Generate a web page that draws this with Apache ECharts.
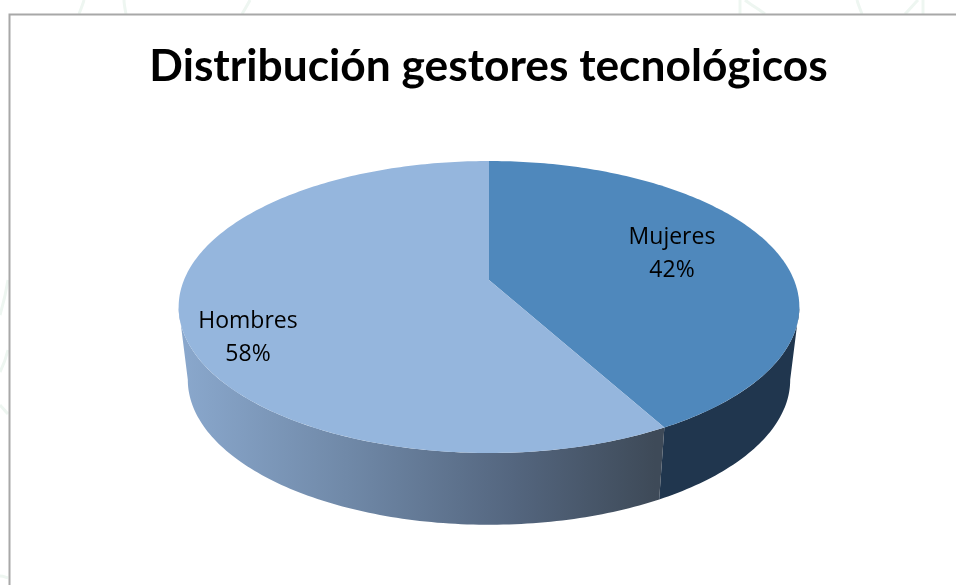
<!DOCTYPE html>
<html><head><meta charset="utf-8">
<style>html,body{margin:0;padding:0;background:#fff}#c{width:956px;height:585px}</style>
<script src="https://cdn.jsdelivr.net/npm/echarts@6/dist/echarts.min.js"></script>
</head><body><div id="c"></div>
<script>
const titleText = 'Distribución gestores tecnológicos';
const categories = ['Mujeres', 'Hombres'];
const values = [42, 58];

const topColors = ['#4f88bc', '#95b6dd'];
const labelCentres = [[672, 254], [248, 337.5]];
const total = values.reduce((a, b) => a + b, 0);
const persp = -0.185;
const topRim = {cx: 489, cy: 280, rx: 305, ry: 141};
const lowRim = {cx: 489, cy: 353, rx: 296, ry: 140};
// The wall is visible only on the front of the disc, between the two points of widest extent.
const frontFrom = Math.acos(persp);
const frontTo = 2 * Math.PI - frontFrom;

function rimPoint(rim, a) {
  const u = Math.sin(a), v = -Math.cos(a), w = 1 + persp * v;
  return [rim.cx + rim.rx * u / w, rim.cy + rim.ry * v / w];
}
function sweep(rim, a0, a1) {
  const n = Math.max(8, Math.ceil((a1 - a0) * 60)), pts = [];
  for (let i = 0; i <= n; i++) pts.push(rimPoint(rim, a0 + (a1 - a0) * i / n));
  return pts;
}
function angles(idx) {
  let before = 0;
  for (let i = 0; i < idx; i++) before += values[i];
  return [before / total * 2 * Math.PI, (before + values[idx]) / total * 2 * Math.PI];
}
const wallFills = [
  '#20364e',
  new echarts.graphic.LinearGradient(180, 0, 655, 0, [
    {offset: 0, color: '#8aa8cd'},
    {offset: 0.35, color: '#7089a8'},
    {offset: 0.7, color: '#54667f'},
    {offset: 1, color: '#3e4a58'}
  ], true)
];
const data = categories.map((c, i) => ({name: c, value: values[i]}));

function renderWall(params, api) {
  const i = params.dataIndex;
  const [a0, a1] = angles(i);
  const from = Math.max(a0, frontFrom), to = Math.min(a1, frontTo);
  if (to <= from) return null;
  const pts = sweep(topRim, from, to).concat(sweep(lowRim, from, to).reverse());
  return {type: 'polygon', shape: {points: pts}, style: {fill: wallFills[i]}};
}
function renderTop(params, api) {
  const i = params.dataIndex;
  const [a0, a1] = angles(i);
  const pts = [[topRim.cx, topRim.cy]].concat(sweep(topRim, a0, a1));
  const pct = Math.round(api.value(0) / total * 100);
  return {type: 'group', children: [
    {type: 'polygon', shape: {points: pts}, style: {fill: topColors[i]}},
    {type: 'text', z2: 10, x: labelCentres[i][0], y: labelCentres[i][1], style: {
      text: categories[i] + '\n' + pct + '%',
      fill: '#000', align: 'center', verticalAlign: 'middle',
      font: '23px "Open Sans"', lineHeight: 33
    }}
  ]};
}
const faint = '#eef6f1';
function wm(shape) {
  return {type: 'bezierCurve', shape, silent: true, z: 0,
    style: {fill: 'none', stroke: faint, lineWidth: 3}};
}
const chart = echarts.init(document.getElementById('c'), null, {renderer: 'canvas'});
chart.setOption({
  animation: false,
  backgroundColor: '#ffffff',
  title: {
    text: titleText, left: 483.5, top: 40, textAlign: 'center',
    textStyle: {fontFamily: 'Lato', fontWeight: 'bold', fontSize: 44.3, color: '#000'}
  },
  tooltip: {show: false},
  graphic: [
    wm({x1: 84, y1: 0, x2: 79, y2: 14, cpx1: 83, cpy1: 4, cpx2: 81, cpy2: 9}),
    wm({x1: 124, y1: 0, x2: 126, y2: 14, cpx1: 124, cpy1: 4, cpx2: 125, cpy2: 9}),
    wm({x1: 250, y1: 0, x2: 242, y2: 14, cpx1: 248, cpy1: 4, cpx2: 245, cpy2: 9}),
    wm({x1: 745, y1: 0, x2: 765, y2: 14, cpx1: 750, cpy1: 4, cpx2: 758, cpy2: 9}),
    wm({x1: 918, y1: 0, x2: 905, y2: 14, cpx1: 914, cpy1: 4, cpx2: 910, cpy2: 9}),
    wm({x1: 740, y1: 0, x2: 740, y2: 14, cpx1: 740, cpy1: 4, cpx2: 740, cpy2: 9}),
    wm({x1: 857, y1: 0, x2: 862, y2: 14, cpx1: 858, cpy1: 4, cpx2: 860, cpy2: 9}),
    wm({x1: 923, y1: 0, x2: 923, y2: 14, cpx1: 923, cpy1: 4, cpx2: 923, cpy2: 9}),
    wm({x1: 8, y1: 280, x2: 0, y2: 315, cpx1: 6, cpy1: 292, cpx2: 3, cpy2: 305}),
    wm({x1: 8, y1: 350, x2: 0, y2: 372, cpx1: 6, cpy1: 358, cpx2: 3, cpy2: 366}),
    wm({x1: 0, y1: 405, x2: 8, y2: 414, cpx1: 3, cpy1: 408, cpx2: 5, cpy2: 411}),
    wm({x1: 0, y1: 576, x2: 8, y2: 578, cpx1: 3, cpy1: 576, cpx2: 5, cpy2: 577}),
    {type: 'rect', silent: true, z: 0, shape: {x: 9.5, y: 14.5, width: 960, height: 600},
      style: {fill: '#fff', stroke: '#a8a8a8', lineWidth: 2}}
  ],
  series: [
    {type: 'custom', name: 'Lateral', coordinateSystem: 'none', z: 2, data, renderItem: renderWall, silent: true,
      encode: {value: 0}},
    {type: 'custom', name: titleText, coordinateSystem: 'none', z: 3, data, renderItem: renderTop, silent: true,
      encode: {value: 0}}
  ]
});
</script></body></html>
